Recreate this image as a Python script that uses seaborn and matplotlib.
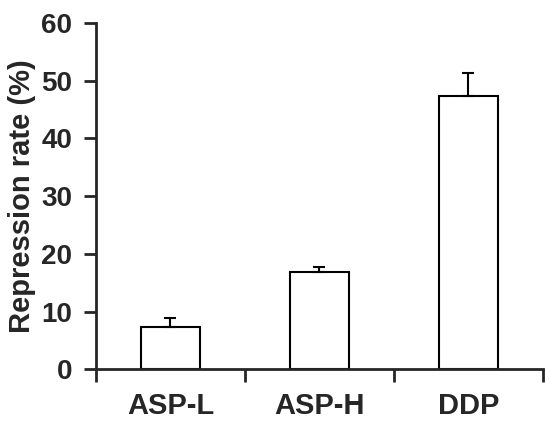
import matplotlib
matplotlib.use("Agg")
import matplotlib.pyplot as plt
import numpy as np
import pandas as pd
import seaborn as sns

groups = ["ASP-L", "ASP-H", "DDP"]
rates = [7.3, 16.8, 47.3]
errors = [1.55, 0.95, 4.0]

sns.set_style("ticks")
plt.rcParams["font.family"] = ["Liberation Sans", "DejaVu Sans"]
plt.rcParams["font.weight"] = "bold"

df = pd.DataFrame({"group": groups, "rate": rates})

fig = plt.figure(figsize=(5.5, 4.23), dpi=100)
ax = fig.add_axes([0.1745, 0.127, 0.8125, 0.8186])

sns.barplot(data=df, x="group", y="rate", color="white", edgecolor="black",
            linewidth=1.5, width=0.4, errorbar=None, ax=ax)
ax.errorbar(np.arange(len(groups)), rates,
            yerr=[np.zeros(len(errors)), errors],
            fmt="none", ecolor="black", elinewidth=1.5, capsize=4, capthick=1.5)

ax.set_xlim(-0.5, 2.5)
ax.set_ylim(0, 60)
ax.set_yticks(range(0, 61, 10))
ax.set_xticks([-0.5, 0.5, 1.5, 2.5])
ax.set_xticklabels([])
ax.set_xticks([0, 1, 2], minor=True)
ax.set_xticklabels(groups, minor=True, fontsize=21, fontweight="bold")
ax.tick_params(axis="x", which="minor", length=0, pad=16)
ax.tick_params(axis="x", which="major", length=9, width=2, direction="out")
ax.tick_params(axis="y", length=9, width=2, direction="out", labelsize=20, pad=8)
for lab in ax.get_yticklabels():
    lab.set_fontweight("bold")

ax.set_xlabel("")
ax.set_ylabel("Repression rate (%)", fontsize=21, fontweight="bold", labelpad=4)
sns.despine(ax=ax)
for side in ["left", "bottom"]:
    ax.spines[side].set_linewidth(2)

fig.savefig("out.png", dpi=100)
